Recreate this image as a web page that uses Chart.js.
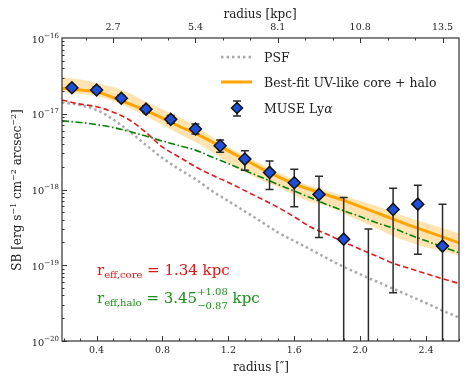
<!DOCTYPE html>
<html>
<head>
<meta charset="utf-8">
<script src="https://cdn.jsdelivr.net/npm/chart.js@4.4.1/dist/chart.umd.min.js"></script>
<style>
  html, body { margin: 0; padding: 0; background: #fff; }
</style>
</head>
<body>
<canvas id="sbChart" width="469" height="386"></canvas>
<script>
// measured profile (MUSE Lya), radius in arcsec
const radiusPts = [0.25, 0.40, 0.55, 0.70, 0.85, 1.00, 1.15, 1.30, 1.45, 1.60, 1.75, 1.90, 2.05, 2.20, 2.35, 2.50];
// 2.05" point lies below the plotted range, only its error bar shows
const sbPts = [2.20e-17, 2.06e-17, 1.60e-17, 1.15e-17, 8.43e-18, 6.28e-18, 3.78e-18, 2.52e-18, 1.68e-18, 1.23e-18, 8.61e-19, 2.21e-19, null, 5.46e-19, 6.41e-19, 1.79e-19];
const sbHi = [2.40e-17, 2.25e-17, 1.75e-17, 1.27e-17, 9.5e-18, 7.3e-18, 4.50e-18, 3.24e-18, 2.37e-18, 1.85e-18, 1.50e-18, 7.87e-19, 3.00e-19, 1.04e-18, 1.14e-18, 6.41e-19];
const sbLo = [2.02e-17, 1.88e-17, 1.46e-17, 1.04e-17, 7.5e-18, 5.4e-18, 3.10e-18, 1.80e-18, 1.00e-18, 5.92e-19, 2.33e-19, 0, 0, 4.32e-20, 1.40e-19, 0];

// model curves
const radiusModel = [0.19, 0.3, 0.4, 0.5, 0.6, 0.7, 0.8, 0.9, 1.0, 1.1, 1.2, 1.3, 1.4, 1.5, 1.6, 1.7, 1.8, 1.9, 2.0, 2.1, 2.2, 2.3, 2.4, 2.5, 2.6];
const sbFit = [2.17e-17, 2.06e-17, 1.95e-17, 1.64e-17, 1.35e-17, 1.10e-17, 8.77e-18, 6.84e-18, 5.51e-18, 4.27e-18, 3.24e-18, 2.48e-18, 1.89e-18, 1.48e-18, 1.19e-18, 9.93e-19, 8.43e-19, 7.18e-19, 5.94e-19, 4.92e-19, 4.06e-19, 3.37e-19, 2.82e-19, 2.37e-19, 1.98e-19];
const sbFitHi = [3.05e-17, 2.83e-17, 2.55e-17, 2.25e-17, 1.87e-17, 1.44e-17, 1.15e-17, 9.04e-18, 6.89e-18, 4.92e-18, 3.60e-18, 2.80e-18, 2.17e-18, 1.70e-18, 1.33e-18, 1.11e-18, 9.53e-19, 8.18e-19, 7.03e-19, 6.04e-19, 5.02e-19, 4.19e-19, 3.60e-19, 3.09e-19, 2.65e-19];
const sbFitLo = [1.94e-17, 1.82e-17, 1.71e-17, 1.47e-17, 1.19e-17, 9.33e-18, 7.10e-18, 5.40e-18, 4.23e-18, 3.12e-18, 2.23e-18, 1.70e-18, 1.33e-18, 1.08e-18, 8.43e-19, 6.82e-19, 6.04e-19, 4.80e-19, 3.85e-19, 3.09e-19, 2.42e-19, 2.02e-19, 1.73e-19, 1.53e-19, 1.36e-19];
const sbCore = [1.52e-17, 1.34e-17, 1.24e-17, 1.05e-17, 8.26e-18, 5.65e-18, 3.63e-18, 2.70e-18, 2.00e-18, 1.55e-18, 1.24e-18, 9.66e-19, 7.52e-19, 5.82e-19, 4.35e-19, 3.20e-19, 2.56e-19, 2.03e-19, 1.63e-19, 1.32e-19, 1.06e-19, 9.08e-20, 7.74e-20, 6.64e-20, 5.75e-20];
const sbHalo = [8.09e-18, 7.66e-18, 7.19e-18, 6.58e-18, 5.82e-18, 5.07e-18, 4.36e-18, 3.80e-18, 3.31e-18, 2.69e-18, 2.19e-18, 1.78e-18, 1.45e-18, 1.17e-18, 9.55e-19, 7.76e-19, 6.31e-19, 5.25e-19, 4.39e-19, 3.64e-19, 3.09e-19, 2.53e-19, 2.10e-19, 1.75e-19, 1.46e-19];
const sbPSF = [1.41e-17, 1.30e-17, 1.12e-17, 8.43e-18, 5.82e-18, 3.86e-18, 2.61e-18, 1.86e-18, 1.37e-18, 9.59e-19, 7.03e-19, 5.15e-19, 3.76e-19, 2.72e-19, 2.09e-19, 1.61e-19, 1.23e-19, 9.51e-20, 7.60e-20, 6.10e-20, 4.91e-20, 3.94e-20, 3.17e-20, 2.52e-20, 2.04e-20];

// axes
const xTickVals = [0.4, 0.8, 1.2, 1.6, 2.0, 2.4];
const kpcTickVals = [2.7, 5.4, 8.1, 10.8, 13.5];
const kpcPerArcsec = 5.4;
const yTickExp = [-20, -19, -18, -17, -16];

const serif = '"DejaVu Serif", "Liberation Serif", serif';
const pts = (xs, ys) => xs.map((v, i) => ({ x: v, y: ys[i] }));

// draws a run of text pieces (normal / sub / sup / stacked) starting at baseline y
function richWidth(ctx, parts) {
  let w = 0;
  parts.forEach(p => {
    if (p.stack) {
      ctx.font = p.size + 'px ' + serif;
      w += Math.max(ctx.measureText(p.stack[0]).width, ctx.measureText(p.stack[1]).width);
    } else {
      ctx.font = (p.style || '') + ' ' + p.size + 'px ' + serif;
      w += ctx.measureText(p.t).width;
    }
  });
  return w;
}
function drawRich(ctx, parts, x, y, align) {
  const w = richWidth(ctx, parts);
  let cx = align === 'right' ? x - w : align === 'center' ? x - w / 2 : x;
  ctx.textAlign = 'left';
  ctx.textBaseline = 'alphabetic';
  parts.forEach(p => {
    if (p.stack) {
      ctx.font = p.size + 'px ' + serif;
      ctx.fillText(p.stack[0], cx, y + p.dy[0]);
      ctx.fillText(p.stack[1], cx, y + p.dy[1]);
      cx += Math.max(ctx.measureText(p.stack[0]).width, ctx.measureText(p.stack[1]).width);
    } else {
      ctx.font = (p.style || '') + ' ' + p.size + 'px ' + serif;
      ctx.fillText(p.t, cx, y + (p.dy || 0));
      cx += ctx.measureText(p.t).width;
    }
  });
}

const decor = {
  id: 'decor',
  beforeDatasetDraw(chart, args) {
    if (args.index !== 6) return;
    const { ctx, chartArea: a, scales: { x, y } } = chart;
    ctx.save();
    ctx.beginPath();
    ctx.rect(a.left, a.top, a.right - a.left, a.bottom - a.top);
    ctx.clip();
    ctx.strokeStyle = '#2b2b2b';
    ctx.lineWidth = 1.5;
    radiusPts.forEach((r, i) => {
      const px = x.getPixelForValue(r);
      const top = y.getPixelForValue(sbHi[i]);
      const bot = sbLo[i] > 0 ? y.getPixelForValue(sbLo[i]) : a.bottom + 5;
      ctx.beginPath();
      ctx.moveTo(px, top); ctx.lineTo(px, bot);
      ctx.moveTo(px - 4, top); ctx.lineTo(px + 4, top);
      if (sbLo[i] > 0) { ctx.moveTo(px - 4, bot); ctx.lineTo(px + 4, bot); }
      ctx.stroke();
    });
    ctx.restore();
  },
  afterDraw(chart) {
    const { ctx, chartArea: a, scales: { x, y } } = chart;
    ctx.save();
    ctx.fillStyle = '#222';
    ctx.strokeStyle = '#333';

    // frame
    ctx.lineWidth = 1.2;
    ctx.strokeRect(a.left, a.top, a.right - a.left, a.bottom - a.top);

    // inward ticks
    ctx.lineWidth = 1;
    ctx.beginPath();
    for (let e = -20; e <= -17; e++) {
      for (let m = 1; m <= 9; m++) {
        const py = Math.round(y.getPixelForValue(m * Math.pow(10, e))) + 0.5;
        const len = m === 1 ? 5 : 2.5;
        ctx.moveTo(a.left, py); ctx.lineTo(a.left + len, py);
      }
    }
    for (let k = 2; k <= 26; k++) {
      const px = Math.round(x.getPixelForValue(k / 10)) + 0.5;
      const len = k % 4 === 0 ? 5 : 2.5;
      ctx.moveTo(px, a.bottom); ctx.lineTo(px, a.bottom - len);
    }
    for (let k = 2; k <= 15; k++) {
      const px = Math.round(x.getPixelForValue(k * 0.9 / kpcPerArcsec)) + 0.5;
      const len = k % 3 === 0 ? 5 : 2.5;
      ctx.moveTo(px, a.top); ctx.lineTo(px, a.top + len);
    }
    ctx.stroke();

    // tick labels
    ctx.textAlign = 'center';
    ctx.textBaseline = 'middle';
    ctx.font = '9.5px ' + serif;
    xTickVals.forEach(v => ctx.fillText(v.toFixed(1), x.getPixelForValue(v), a.bottom + 10));
    kpcTickVals.forEach(v => ctx.fillText(v.toFixed(1), x.getPixelForValue(v / kpcPerArcsec), a.top - 10));
    yTickExp.forEach(e => {
      const py = y.getPixelForValue(Math.pow(10, e));
      drawRich(ctx, [{ t: '10', size: 9.8 }, { t: '\u2212' + Math.abs(e), size: 7, dy: -5 }], a.left - 3, py + 4.5, 'right');
    });

    // axis titles
    ctx.textAlign = 'center';
    ctx.textBaseline = 'middle';
    ctx.font = '12px ' + serif;
    ctx.fillText('radius [\u2033]', 261, 368);
    ctx.fillText('radius [kpc]', 260, 15);
    ctx.save();
    ctx.translate(17, 190);
    ctx.rotate(-Math.PI / 2);
    drawRich(ctx, [
      { t: 'SB [erg s', size: 12 }, { t: '\u22121', size: 8, dy: -5 },
      { t: ' cm', size: 12 }, { t: '\u22122', size: 8, dy: -5 },
      { t: ' arcsec', size: 12 }, { t: '\u22122', size: 8, dy: -5 },
      { t: ']', size: 12 }
    ], 0, 4, 'center');
    ctx.restore();

    // legend
    const lx0 = 221, lx1 = 252, tx = 264;
    ctx.lineCap = 'butt';
    ctx.strokeStyle = '#a9a9a9';
    ctx.lineWidth = 2.5;
    ctx.setLineDash([2.5, 3]);
    ctx.beginPath(); ctx.moveTo(lx0, 57); ctx.lineTo(lx1, 57); ctx.stroke();
    ctx.setLineDash([]);
    ctx.strokeStyle = '#ffa500';
    ctx.lineWidth = 3;
    ctx.beginPath(); ctx.moveTo(lx0, 82); ctx.lineTo(lx1, 82); ctx.stroke();
    ctx.strokeStyle = '#2b2b2b';
    ctx.lineWidth = 1.5;
    ctx.beginPath();
    ctx.moveTo(237, 101); ctx.lineTo(237, 116);
    ctx.moveTo(233, 101); ctx.lineTo(241, 101);
    ctx.moveTo(233, 116); ctx.lineTo(241, 116);
    ctx.stroke();
    ctx.beginPath();
    ctx.moveTo(237, 102.5); ctx.lineTo(242.5, 108); ctx.lineTo(237, 113.5); ctx.lineTo(231.5, 108); ctx.closePath();
    ctx.fillStyle = '#1e4fd6'; ctx.fill();
    ctx.strokeStyle = '#111'; ctx.stroke();
    ctx.fillStyle = '#222';
    drawRich(ctx, [{ t: 'PSF', size: 12.5 }], tx, 62, 'left');
    drawRich(ctx, [{ t: 'Best-fit UV-like core + halo', size: 12.5 }], tx, 86.5, 'left');
    drawRich(ctx, [{ t: 'MUSE Ly', size: 12.5 }, { t: '\u03b1', size: 12.5, style: 'italic' }], tx, 112.5, 'left');

    // annotations
    ctx.fillStyle = '#d91a1a';
    drawRich(ctx, [
      { t: 'r', size: 15 }, { t: 'eff,core', size: 10, dy: 3 }, { t: ' = 1.34 kpc', size: 15 }
    ], 97, 274.5, 'left');
    ctx.fillStyle = '#1a901a';
    drawRich(ctx, [
      { t: 'r', size: 15 }, { t: 'eff,halo', size: 10, dy: 3 }, { t: ' = 3.45', size: 15 },
      { stack: ['+1.08', '\u22120.87'], size: 10, dy: [-8, 6] }, { t: ' kpc', size: 15 }
    ], 97, 303, 'left');

    ctx.restore();
  }
};

const ctx = document.getElementById('sbChart').getContext('2d');
new Chart(ctx, {
  type: 'line',
  data: {
    datasets: [
      { label: 'band lo', data: pts(radiusModel, sbFitLo), borderWidth: 0, pointRadius: 0, fill: false, order: 7, cubicInterpolationMode: 'monotone' },
      { label: 'band hi', data: pts(radiusModel, sbFitHi), borderWidth: 0, pointRadius: 0, fill: '-1', backgroundColor: 'rgba(255,165,0,0.3)', order: 6, cubicInterpolationMode: 'monotone' },
      { label: 'PSF', data: pts(radiusModel, sbPSF), borderColor: '#a9a9a9', borderWidth: 2.5, borderDash: [2.5, 3], pointRadius: 0, fill: false, order: 5, cubicInterpolationMode: 'monotone' },
      { label: 'core', data: pts(radiusModel, sbCore), borderColor: '#e01b1b', borderWidth: 1.6, borderDash: [5.5, 3], pointRadius: 0, fill: false, order: 4, cubicInterpolationMode: 'monotone' },
      { label: 'halo', data: pts(radiusModel, sbHalo), borderColor: '#088008', borderWidth: 1.6, borderDash: [7, 2.5, 1.6, 2.5], pointRadius: 0, fill: false, order: 3, cubicInterpolationMode: 'monotone' },
      { label: 'Best-fit UV-like core + halo', data: pts(radiusModel, sbFit), borderColor: '#ffa500', borderWidth: 3, pointRadius: 0, fill: false, order: 2, cubicInterpolationMode: 'monotone' },
      { label: 'MUSE Lya', data: pts(radiusPts, sbPts), showLine: false, pointStyle: 'rectRot', pointRadius: 6, pointBackgroundColor: '#1e4fd6', pointBorderColor: '#111', pointBorderWidth: 1.5, order: 1 }
    ]
  },
  options: {
    responsive: false,
    animation: false,
    devicePixelRatio: 1,
    layout: { padding: { left: 62, top: 38, right: 10, bottom: 45 } },
    scales: {
      x: { type: 'linear', min: 0.19, max: 2.6, display: false },
      y: { type: 'logarithmic', min: 1e-20, max: 1e-16, display: false }
    },
    plugins: { legend: { display: false }, tooltip: { enabled: false } }
  },
  plugins: [decor]
});
</script>
</body>
</html>
